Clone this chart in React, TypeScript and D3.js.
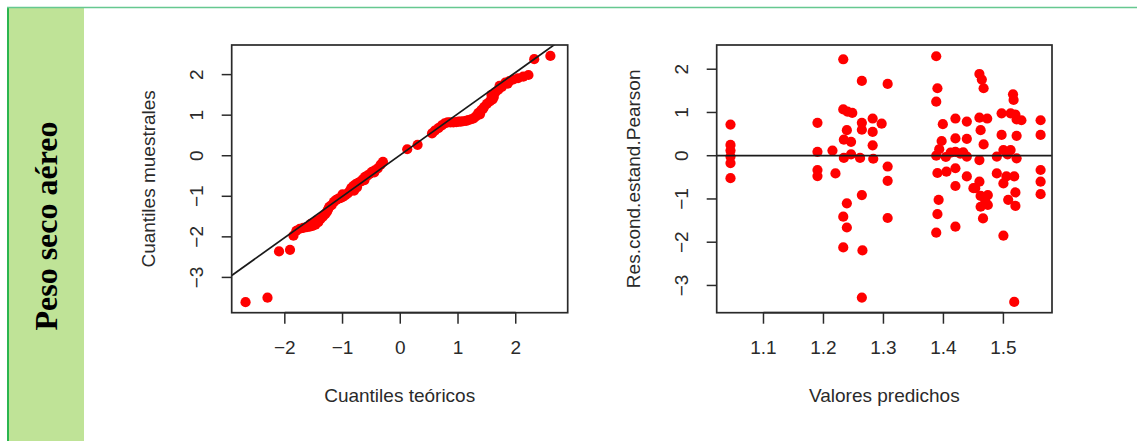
import React from 'react'
import * as d3 from 'd3'

// Q-Q plot: theoretical vs sample quantiles
const qqTheo = [
  -2.68, -2.3, -2.1, -1.91, -1.85, -1.8, -1.74, -1.68, -1.62, -1.57, -1.55, -1.52, -1.47, -1.45, -1.42,
  -1.38, -1.34, -1.3, -1.27, -1.25, -1.23, -1.19, -1.15, -1.11, -1.07, -1.03, -1.0, -0.99, -0.95, -0.91,
  -0.88, -0.85, -0.81, -0.8, -0.77, -0.75, -0.73, -0.69, -0.65, -0.62, -0.61, -0.57, -0.53, -0.49, -0.45,
  -0.44, -0.39, -0.34, -0.3, 0.12, 0.3, 0.55, 0.6, 0.66, 0.72, 0.77, 0.82, 0.87, 0.92, 0.97,
  1.01, 1.05, 1.09, 1.14, 1.18, 1.23, 1.27, 1.31, 1.35, 1.38, 1.4, 1.43, 1.45, 1.5, 1.55,
  1.58, 1.6, 1.62, 1.65, 1.7, 1.72, 1.76, 1.82, 1.86, 1.89, 1.96, 2.04, 2.13, 2.22, 2.32,
  2.6,
]
const qqSample = [
  -3.61, -3.5, -2.36, -2.32, -1.97, -1.85, -1.8, -1.78, -1.76, -1.75, -1.68, -1.73, -1.7, -1.6, -1.64,
  -1.56, -1.5, -1.44, -1.38, -1.32, -1.26, -1.22, -1.14, -1.09, -1.06, -1.04, -0.95, -1.01, -0.97, -0.93,
  -0.88, -0.8, -0.74, -0.86, -0.7, -0.78, -0.67, -0.64, -0.58, -0.6, -0.52, -0.49, -0.45, -0.4, -0.41,
  -0.36, -0.31, -0.22, -0.15, 0.16, 0.27, 0.55, 0.62, 0.68, 0.75, 0.8, 0.82, 0.82, 0.82, 0.83,
  0.84, 0.84, 0.85, 0.86, 0.88, 0.9, 0.92, 0.97, 1.05, 1.02, 1.12, 1.15, 1.2, 1.28, 1.34,
  1.5, 1.39, 1.45, 1.57, 1.63, 1.72, 1.7, 1.8, 1.78, 1.84, 1.88, 1.91, 1.95, 1.99, 2.38,
  2.46,
]
const qqIntercept = 0.02
const qqSlope = 1.018

// residuals vs predicted values
const predVals = [
  1.045, 1.045, 1.045, 1.045, 1.045, 1.045,
  1.19, 1.19, 1.19, 1.19, 1.215, 1.22,
  1.233, 1.233, 1.24, 1.248, 1.239, 1.234, 1.246, 1.234, 1.246, 1.261, 1.239, 1.233, 1.239, 1.233,
  1.264, 1.264, 1.264, 1.264, 1.265, 1.264,
  1.282, 1.282, 1.282, 1.283, 1.297,
  1.307, 1.307, 1.307, 1.307,
  1.388, 1.39, 1.388, 1.399, 1.397, 1.393, 1.388, 1.404, 1.412, 1.39, 1.405, 1.392, 1.39, 1.388,
  1.42, 1.42, 1.42, 1.42, 1.42, 1.42, 1.428,
  1.439, 1.439, 1.439, 1.439, 1.433, 1.45,
  1.46, 1.464, 1.467, 1.46, 1.473, 1.462, 1.467, 1.46, 1.46, 1.453, 1.462, 1.474, 1.462, 1.474, 1.466, 1.47,
  1.489, 1.489, 1.497, 1.512, 1.497, 1.522, 1.5, 1.512, 1.505, 1.518, 1.5, 1.508, 1.52, 1.52, 1.5, 1.518,
  1.516, 1.517, 1.522, 1.53, 1.522, 1.52, 1.507,
  1.562, 1.562, 1.562, 1.562, 1.562,
]
const residVals = [
  0.72, 0.25, 0.12, -0.02, -0.17, -0.52,
  0.76, 0.09, -0.33, -0.47, 0.12, -0.41,
  2.23, 1.07, 1.02, 0.99, 0.59, 0.37, 0.32, -0.05, 0.03, -0.05, -1.1, -1.41, -1.66, -2.12,
  1.73, 0.76, 0.6, -0.91, -2.19, -3.28,
  0.86, 0.55, 0.24, -0.07, 0.74,
  1.66, -0.25, -0.58, -1.44,
  2.3, 1.56, 1.25, 0.73, 0.34, 0.15, 0.0, -0.03, 0.07, -0.4, -0.37, -1.02, -1.35, -1.78,
  0.86, 0.4, 0.09, -0.29, -0.7, -1.64, 0.05,
  0.79, 0.39, -0.02, -0.48, 0.08, -0.75,
  1.89, 1.76, 1.56, 0.88, 0.86, 0.59, 0.26, -0.1, -0.6, -0.75, -0.93, -0.91, -1.18, -1.14, -1.45, -1.06,
  -0.02, -0.41, 0.98, 0.98, 0.48, 0.46, 0.13, 0.13, -0.48, -0.48, -0.64, -1.02, -0.85, -1.16, -1.85, -3.38,
  1.42, 1.29, 0.84, 0.82, -0.06, 0.95, 0.03,
  0.82, 0.48, -0.33, -0.6, -0.89,
]

const qqTicksX = [-2, -1, 0, 1, 2]
const qqTicksY = [-3, -2, -1, 0, 1, 2]
const predTicksX = [1.1, 1.2, 1.3, 1.4, 1.5]
const residTicksY = [-3, -2, -1, 0, 1, 2]

const FONT = '"Liberation Sans", Arial, sans-serif'
const TXT = '#2a2a2a'

function Panel({ id, left, right, xDomain, yDomain, xTicks, yTicks, xFmt, xTitle, yTitle, xs, ys, line }) {
  const top = 45
  const bottom = 312.7
  const x = d3.scaleLinear().domain(xDomain).range([left, right])
  const y = d3.scaleLinear().domain(yDomain).range([bottom, top])
  const [lx0, lx1] = xDomain
  const pts = xs.map((v, i) => [v, ys[i]])
  return (
    <g>
      <defs>
        <clipPath id={id}>
          <rect x={left} y={top} width={right - left} height={bottom - top} />
        </clipPath>
      </defs>
      {pts.map((d, i) => (
        <circle key={i} cx={x(d[0])} cy={y(d[1])} r={5.1} fill="#ff0000" />
      ))}
      <line
        x1={x(lx0)}
        x2={x(lx1)}
        y1={y(line.a + line.b * lx0)}
        y2={y(line.a + line.b * lx1)}
        stroke="#1a1a1a"
        strokeWidth={1.7}
        clipPath={`url(#${id})`}
      />
      <rect x={left} y={top} width={right - left} height={bottom - top} fill="none" stroke="#2a2a2a" strokeWidth={1.7} />
      {/* x axis */}
      <line x1={x(xTicks[0])} x2={x(xTicks[xTicks.length - 1])} y1={bottom} y2={bottom} stroke="#2a2a2a" strokeWidth={1.7} />
      {xTicks.map((t) => (
        <g key={t}>
          <line x1={x(t)} x2={x(t)} y1={bottom} y2={bottom + 11} stroke="#2a2a2a" strokeWidth={1.5} />
          <text x={x(t)} y={bottom + 41.5} textAnchor="middle" fontSize={19} fontFamily={FONT} fill={TXT}>
            {xFmt(t)}
          </text>
        </g>
      ))}
      {/* y axis */}
      {yTicks.map((t) => (
        <g key={t}>
          <line x1={left - 10} x2={left} y1={y(t)} y2={y(t)} stroke="#2a2a2a" strokeWidth={1.5} />
          <text
            transform={`translate(${left - 28.7},${y(t)}) rotate(-90)`}
            textAnchor="middle"
            fontSize={19}
            fontFamily={FONT}
            fill={TXT}
          >
            {t < 0 ? '\u2212' + Math.abs(t) : t}
          </text>
        </g>
      ))}
      <text x={(left + right) / 2} y={bottom + 89.5} textAnchor="middle" fontSize={19} fontFamily={FONT} fill={TXT}>
        {xTitle}
      </text>
      <text
        transform={`translate(${left - 77},${(top + bottom) / 2}) rotate(-90)`}
        textAnchor="middle"
        fontSize={19}
        fontFamily={FONT}
        fill={TXT}
      >
        {yTitle}
      </text>
    </g>
  )
}

export default function App() {
  return (
    <svg
      width={1137}
      height={441}
      style={{ position: 'absolute', left: 0, top: 0, background: '#fff' }}
    >
      <rect x={7} y={7} width={77} height={434} fill="#bfe397" />
      <line x1={8} x2={8} y1={7} y2={441} stroke="#2bb54f" strokeWidth={2} />
      <line x1={7} x2={1137} y1={7.5} y2={7.5} stroke="#66c890" strokeWidth={1.5} />
      <text
        transform="translate(57,226) rotate(-90)"
        textAnchor="middle"
        fontSize={32}
        fontWeight="bold"
        fontFamily='"Liberation Serif", "Times New Roman", serif'
        fill="#000"
      >
        Peso seco aéreo
      </text>

      <Panel
        id="clip-qq"
        left={231.7}
        right={567.7}
        xDomain={[-2.92, 2.9]}
        yDomain={[-3.87, 2.73]}
        xTicks={qqTicksX}
        yTicks={qqTicksY}
        xFmt={(t) => (t < 0 ? '\u2212' + Math.abs(t) : String(t))}
        xTitle="Cuantiles teóricos"
        yTitle="Cuantiles muestrales"
        xs={qqTheo}
        ys={qqSample}
        line={{ a: qqIntercept, b: qqSlope }}
      />
      <Panel
        id="clip-res"
        left={716.7}
        right={1052}
        xDomain={[1.022, 1.581]}
        yDomain={[-3.63, 2.56]}
        xTicks={predTicksX}
        yTicks={residTicksY}
        xFmt={(t) => t.toFixed(1)}
        xTitle="Valores predichos"
        yTitle="Res.cond.estand.Pearson"
        xs={predVals}
        ys={residVals}
        line={{ a: 0, b: 0 }}
      />
    </svg>
  )
}
